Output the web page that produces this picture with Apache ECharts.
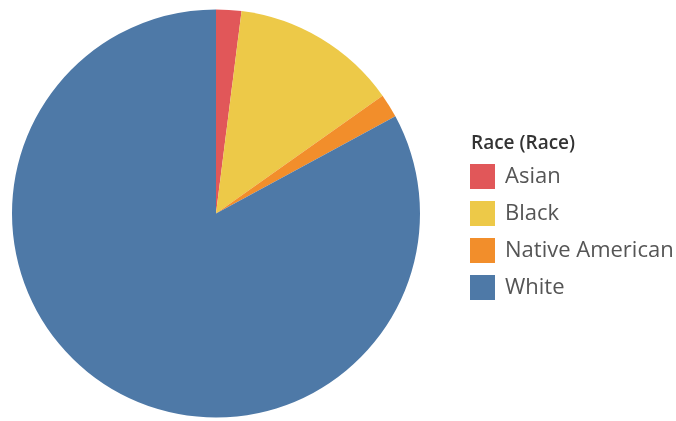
<!DOCTYPE html>
<html>
<head>
<meta charset="utf-8">
<script src="https://cdn.jsdelivr.net/npm/echarts@6/dist/echarts.min.js"></script>
<style>
  html, body { margin: 0; padding: 0; background: #fff; }
  #chart { width: 676px; height: 421px; }
</style>
</head>
<body>
<div id="chart"></div>
<script>
// data (share of total, %)
var races = ['Asian', 'Black', 'Native American', 'White'];
var shares = [2.0, 13.2, 1.9, 82.9];
var colors = ['#e15759', '#edc948', '#f28e2b', '#4e79a7'];

var pieData = [];
for (var i = 0; i < races.length; i++) {
    pieData.push({ name: races[i], value: shares[i] });
}

var myChart = echarts.init(document.getElementById('chart'));
var option = {
    animation: false,
    color: colors,
    title: {
        text: 'Race (Race)',
        left: 466,
        top: 129,
        textStyle: {
            fontFamily: 'Open Sans',
            fontSize: 19,
            fontWeight: 600,
            color: '#333'
        }
    },
    legend: {
        orient: 'vertical',
        left: 470,
        top: 164,
        icon: 'rect',
        itemWidth: 25,
        itemHeight: 25,
        itemGap: 12,
        padding: 0,
        textStyle: {
            fontFamily: 'Open Sans',
            fontSize: 22,
            color: '#555',
            padding: [0, 0, 0, 5]
        },
        data: races
    },
    series: [
        {
            name: 'Race',
            type: 'pie',
            center: [216, 213.5],
            radius: 204,
            startAngle: 90,
            clockwise: true,
            label: { show: false },
            labelLine: { show: false },
            itemStyle: { borderWidth: 0 },
            emphasis: { disabled: true },
            data: pieData
        }
    ]
};
myChart.setOption(option);
</script>
</body>
</html>
